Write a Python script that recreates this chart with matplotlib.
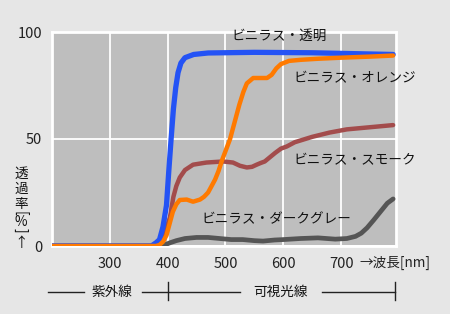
import matplotlib
matplotlib.use("Agg")
import matplotlib.pyplot as plt
import matplotlib.transforms as mtransforms

plt.rcParams['font.family'] = ['Noto Sans CJK JP', 'DejaVu Sans']

# transmittance curves (wavelength nm, transmittance %)
clear_wl = [200, 372, 380, 386, 392, 398, 402, 406, 410, 414, 418, 423, 430, 445, 470, 550, 650, 790]
clear_t = [0, 0, 1.5, 3, 9, 19, 35, 50, 64, 74, 81, 85.5, 88, 89.5, 90.2, 90.5, 90.3, 89.5]

orange_wl = [200, 380, 386, 392, 398, 404, 409, 415, 421, 433, 444, 456, 463, 470, 476, 482, 488, 494,
             501, 508, 516, 524, 531, 537, 548, 560, 572, 580, 588, 596, 610, 630, 660, 700, 750, 790]
orange_t = [0, 0, 0.5, 2, 5, 11, 16, 19.5, 21.5, 21.7, 20.7, 21.7, 23, 25, 28, 31, 35, 40,
            45, 50, 58, 66, 72, 76, 78.5, 78.5, 78.5, 80, 83, 85, 86.5, 87, 87.5, 88, 88.5, 89]

smoke_wl = [200, 380, 388, 395, 400, 404, 410, 415, 421, 430, 444, 467, 496, 513, 525, 537, 546, 554,
            561, 568, 577, 586, 596, 606, 620, 650, 680, 710, 750, 790]
smoke_t = [0, 0, 2, 6, 10, 13.5, 23, 28, 32, 35.5, 38, 39, 39.5, 39, 37.5, 36.7, 37, 38,
           38.8, 39.5, 41.5, 43.5, 45.5, 46.5, 48.5, 51, 53, 54.5, 55.5, 56.5]

gray_wl = [200, 385, 395, 404, 415, 430, 450, 470, 490, 510, 530, 550, 565, 585, 600, 630, 660, 690,
           710, 725, 735, 745, 756, 768, 780, 790]
gray_t = [0, 0, 0.5, 1.5, 2.5, 3.5, 4, 4, 3.5, 3, 3, 2.5, 2.3, 2.8, 3, 3.5, 3.8, 3.2,
          3.5, 4.5, 6, 8.5, 12, 16, 20, 22]

x_ticks = [300, 400, 500, 600, 700]
y_ticks = [0, 50, 100]

W, H = 450, 314
fig = plt.figure(figsize=(4.5, 3.14), dpi=100)
fig.patch.set_facecolor('#E6E6E6')
ax = fig.add_axes([52 / W, 1 - 246 / H, 344 / W, 214 / H])
ax.set_facecolor('#BEBEBE')

ax.set_xlim(200, 795)
ax.set_ylim(0, 100)
for s in ax.spines.values():
    s.set_color('white')
    s.set_linewidth(2)

ax.set_xticks(x_ticks)
ax.set_yticks(y_ticks)
ax.grid(True, color='white', linewidth=1.3)
ax.set_axisbelow(True)
ax.tick_params(length=0, labelsize=10.5, colors='#222222')
ax.tick_params(axis='x', pad=8)
ax.tick_params(axis='y', pad=7)

# draw curves, orange on top
ax.plot(gray_wl, gray_t, color='#555555', lw=3.4, solid_capstyle='round', zorder=3)
ax.plot(smoke_wl, smoke_t, color='#A34C4C', lw=3.2, solid_capstyle='round', zorder=4)
ax.plot(clear_wl, clear_t, color='#2453F5', lw=3.8, solid_capstyle='round', zorder=5)
ax.plot(orange_wl, orange_t, color='#FF7A00', lw=3.2, solid_capstyle='round', zorder=6)

lab = dict(fontsize=9.8, color='#111111', va='center', ha='left', zorder=7)
ax.text(511, 98.3, 'ビニラス・透明', **lab)
ax.text(617, 78.5, 'ビニラス・オレンジ', **lab)
ax.text(617, 40, 'ビニラス・スモーク', **lab)
ax.text(459, 12.4, 'ビニラス・ダークグレー', **lab)

# x unit label next to 700
fig.text(359 / W, 1 - 263 / H, '→波長[nm]', fontsize=9.8, color='#222222', va='center', ha='left')

# vertical y label, stacked
ylab = [('透', 174, 0), ('過', 189, 0), ('率', 204, 0), ('[', 213.5, -90),
        ('%', 222, 0), (']', 230.5, -90), ('↑', 243, 0)]
for ch, yy, rot in ylab:
    fig.text(21 / W, 1 - yy / H, ch, fontsize=9.8, color='#111111', ha='center', va='center',
             rotation=rot)

# UV / visible band under the axis
tr = fig.transFigure
yb = 1 - 292 / H
def hline(x0, x1):
    fig.add_artist(plt.Line2D([x0 / W, x1 / W], [yb, yb], color='#222222', lw=1, transform=tr))
def vtick(x):
    fig.add_artist(plt.Line2D([x / W, x / W], [1 - 282 / H, 1 - 300 / H], color='#222222', lw=1,
                              transform=tr))
hline(48, 84)
hline(142, 240)
hline(322, 395)
vtick(168)
vtick(395)
fig.text(112 / W, yb, '紫外線', fontsize=9.8, color='#111111', ha='center', va='center')
fig.text(281 / W, yb, '可視光線', fontsize=9.8, color='#111111', ha='center', va='center')

fig.savefig('out.png', dpi=100, facecolor=fig.get_facecolor())
